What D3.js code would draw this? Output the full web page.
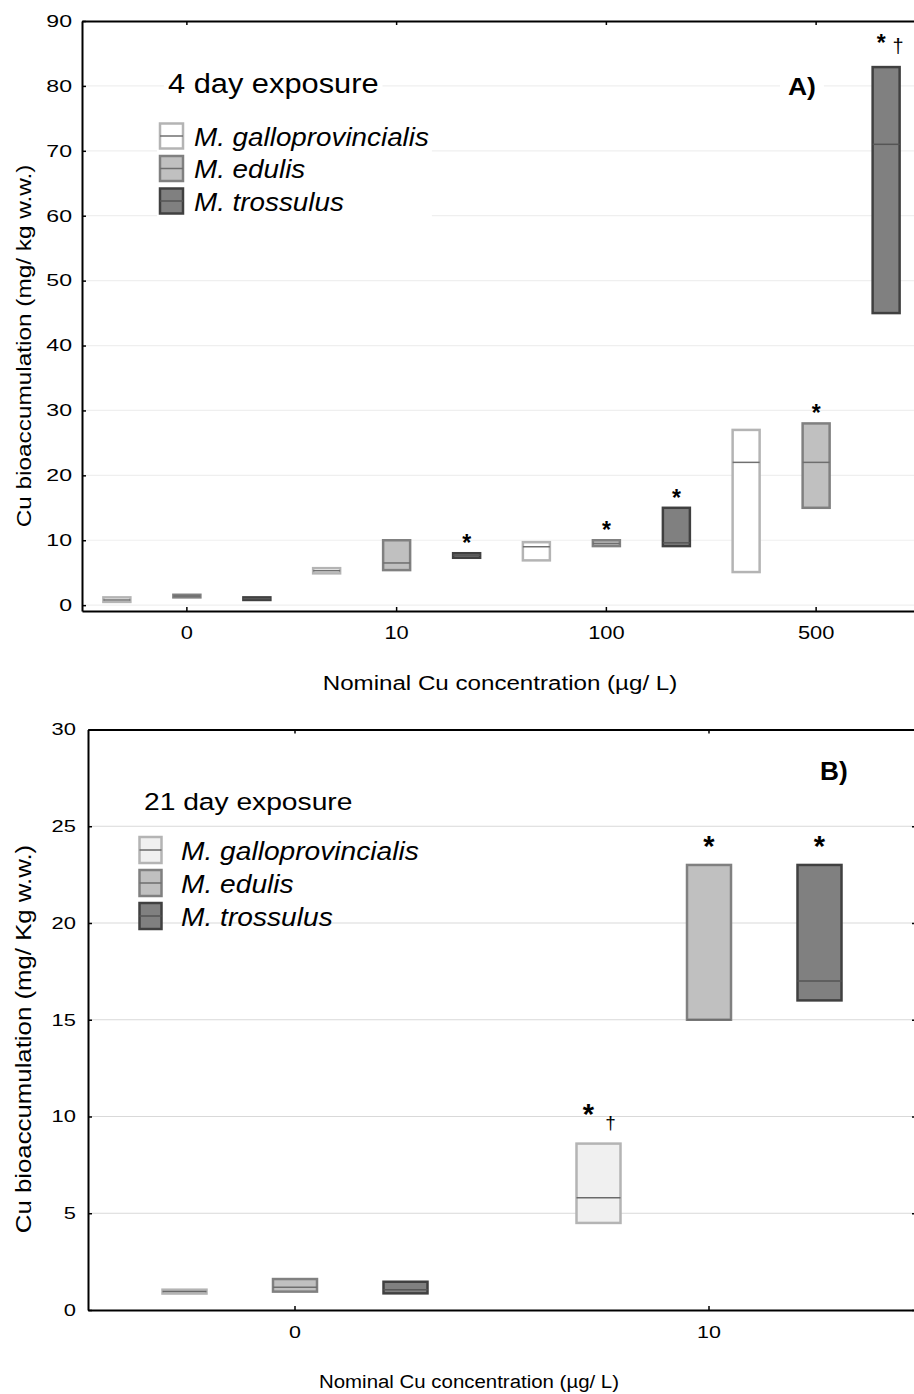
<!DOCTYPE html>
<html>
<head>
<meta charset="utf-8">
<script src="https://cdnjs.cloudflare.com/ajax/libs/d3/7.8.5/d3.min.js"></script>
<style>
body { margin: 0; background: #fff; }
svg { display: block; font-family: "Liberation Sans", Arial, sans-serif; }
</style>
</head>
<body>
<div id="chart"></div>
<script>
var species = ["M. galloprovincialis", "M. edulis", "M. trossulus"];

// panel A, 4 day exposure (rows = species, cols = concentration)
var concA = ["0", "10", "100", "500"];
var lowA  = [[0.5, 4.9, 6.9, 5.1], [1.2, 5.4, 9.1, 15.0], [0.8, 7.3, 9.1, 45.0]];
var medA  = [[0.8, 5.3, 9.0, 22.0], [1.4, 6.5, 9.5, 22.0], [1.0, 7.7, 9.6, 71.0]];
var highA = [[1.2, 5.7, 9.7, 27.0], [1.6, 10.0, 10.0, 28.0], [1.2, 8.0, 15.0, 82.9]];
var sigA  = [["", "", "", ""], ["", "", "*", "*"], ["", "*", "*", "*†"]];
var ticksA = [0, 10, 20, 30, 40, 50, 60, 70, 80, 90];

// panel B, 21 day exposure
var concB = ["0", "10"];
var lowB  = [[0.85, 4.5], [0.95, 15.0], [0.86, 16.0]];
var medB  = [[0.95, 5.8], [1.17, 15.0], [1.05, 17.0]];
var highB = [[1.05, 8.6], [1.6, 23.0], [1.46, 23.0]];
var sigB  = [["", "*†"], ["", "*"], ["", "*"]];
var ticksB = [0, 5, 10, 15, 20, 25, 30];

var W = 914, H = 1394;

var svg = d3.select("#chart").append("svg")
    .attr("width", W)
    .attr("height", H);

// text with a horizontal stretch (the original fonts run wide)
function label(g, x, y, txt, size, sx, opt) {
  opt = opt || {};
  var t = g.append("text")
      .attr("transform", "translate(" + x + "," + y + ")" + (opt.rotate ? " rotate(-90)" : "") + " scale(" + sx + ",1)")
      .attr("font-size", size)
      .attr("text-anchor", opt.anchor || "start")
      .attr("fill", "#000")
      .text(txt);
  if (opt.italic) t.attr("font-style", "italic");
  if (opt.bold) t.attr("font-weight", "bold");
  return t;
}

function whiteBehind(bgLayer, node, pad) {
  var r = node.getBoundingClientRect(), s = svg.node().getBoundingClientRect();
  bgLayer.append("rect")
      .attr("x", r.left - s.left - pad)
      .attr("y", r.top - s.top - pad)
      .attr("width", r.width + 2 * pad)
      .attr("height", r.height + 2 * pad)
      .attr("fill", "#fff");
}

function drawPanel(p) {
  var g = svg.append("g");

  var y = d3.scaleLinear().domain(p.yDom).range([p.bottom, p.top]);
  var x = d3.scaleBand().domain(p.conc).range([p.left, p.right]);
  var xs = d3.scalePoint().domain(d3.range(species.length)).range([-p.off, p.off]);

  // grid
  g.append("g").selectAll("line")
    .data(p.ticks.filter(function(d) { return d > p.yDom[0] + 0.5 && d < p.yDom[1]; }))
    .join("line")
      .attr("x1", p.left).attr("x2", p.right)
      .attr("y1", function(d) { return y(d); })
      .attr("y2", function(d) { return y(d); })
      .attr("stroke", p.gridColor)
      .attr("stroke-width", 1.2);

  var bg = g.append("g");

  // title + legend
  var lg = g.append("g");
  var title = label(lg, p.titleX, p.titleY, p.title, p.titleSize, p.titleSx);
  var panelTag = label(lg, p.tagX, p.tagY, p.tag, p.tagSize, p.tagSx, {bold: true});

  var items = lg.append("g");
  species.forEach(function(s, i) {
    var cy = p.legY + i * p.legStep;
    items.append("rect")
        .attr("x", p.legX).attr("y", cy - p.legH / 2)
        .attr("width", p.legW).attr("height", p.legH)
        .attr("fill", p.fills[i]).attr("stroke", p.strokes[i]).attr("stroke-width", 2.5);
    items.append("line")
        .attr("x1", p.legX).attr("x2", p.legX + p.legW)
        .attr("y1", cy).attr("y2", cy)
        .attr("stroke", p.meds[i]).attr("stroke-width", 1.5);
    label(items, p.legTextX, cy + p.legBase, s, p.legSize, p.legSx, {italic: true});
  });

  if (p.textBg) {
    whiteBehind(bg, title.node(), 4);
    whiteBehind(bg, panelTag.node(), 8);
    whiteBehind(bg, items.node(), 3);
  }

  // boxes
  var boxes = [];
  species.forEach(function(s, i) {
    p.conc.forEach(function(c, j) {
      boxes.push({i: i, c: c, lo: p.low[i][j], md: p.med[i][j], hi: p.high[i][j], sig: p.sig[i][j]});
    });
  });
  var cx = function(d) { return x(d.c) + x.bandwidth() / 2 + xs(d.i); };

  var bx = g.append("g").selectAll("g").data(boxes).join("g");
  bx.append("rect")
      .attr("x", function(d) { return cx(d) - p.boxW / 2; })
      .attr("y", function(d) { return y(d.hi); })
      .attr("width", p.boxW)
      .attr("height", function(d) { return y(d.lo) - y(d.hi); })
      .attr("fill", function(d) { return p.fills[d.i]; })
      .attr("stroke", function(d) { return p.strokes[d.i]; })
      .attr("stroke-width", 2.5);
  bx.append("line")
      .attr("x1", function(d) { return cx(d) - p.boxW / 2; })
      .attr("x2", function(d) { return cx(d) + p.boxW / 2; })
      .attr("y1", function(d) { return y(d.md); })
      .attr("y2", function(d) { return y(d.md); })
      .attr("stroke", function(d) { return p.meds[d.i]; })
      .attr("stroke-width", 1.5);

  // significance marks
  var marks = g.append("g");
  boxes.filter(function(d) { return d.sig; }).forEach(function(d) {
    var dag = d.sig.indexOf("†") >= 0;
    marks.append("text")
        .attr("x", cx(d) + (dag ? p.starDx : 0))
        .attr("y", y(d.hi) - (dag ? p.starOffD : p.starOff))
        .attr("text-anchor", "middle")
        .attr("font-size", p.starSize)
        .attr("font-weight", "bold")
        .text("*");
    if (dag) {
      marks.append("text")
          .attr("x", cx(d) + p.dagDx)
          .attr("y", y(d.hi) - p.dagOff)
          .attr("text-anchor", "middle")
          .attr("font-size", p.dagSize)
          .text("†");
    }
  });

  // axes
  var yAx = g.append("g")
      .attr("transform", "translate(" + p.left + ",0)")
      .call(d3.axisLeft(y).tickValues(p.ticks).tickSize(-4).tickSizeOuter(0).tickFormat(d3.format("d")));
  yAx.selectAll("text")
      .attr("x", -p.yLabGap / p.yLabSx)
      .attr("transform", "scale(" + p.yLabSx + ",1)")
      .attr("font-size", p.tickSize)
      .attr("font-family", null)
      .attr("fill", "#000");

  g.append("g")
      .attr("transform", "translate(" + p.right + ",0)")
      .call(d3.axisRight(y).tickValues(p.ticks).tickSize(-4).tickSizeOuter(0).tickFormat(""));

  var xAx = g.append("g")
      .attr("transform", "translate(0," + p.bottom + ")")
      .call(d3.axisBottom(x).tickSize(-4).tickSizeOuter(0));
  xAx.selectAll("text")
      .attr("y", p.xLabGap)
      .attr("dy", null)
      .attr("transform", "scale(" + p.xLabSx + ",1)")
      .attr("font-size", p.xTickSize)
      .attr("font-family", null)
      .attr("fill", "#000");

  g.append("g")
      .attr("transform", "translate(0," + p.top + ")")
      .call(d3.axisTop(x).tickSize(-4).tickSizeOuter(0).tickFormat(""));

  g.selectAll(".domain").attr("stroke", "#000").attr("stroke-width", 2);
  g.selectAll(".tick line").attr("stroke", "#000").attr("stroke-width", 1.5);

  // axis titles
  label(g, p.xTitleX, p.xTitleY, "Nominal Cu concentration (µg/ L)", p.xTitleSize, p.xTitleSx, {anchor: "middle"});
  label(g, p.yTitleX, p.yTitleY, p.yTitle, p.yTitleSize, p.yTitleSx, {anchor: "middle", rotate: true});
}

drawPanel({
  conc: concA, low: lowA, med: medA, high: highA, sig: sigA, ticks: ticksA,
  yDom: [-0.9, 90], left: 82, right: 921, top: 21, bottom: 611,
  off: 70, boxW: 27, gridColor: "#efefef", textBg: true,
  fills: ["#ffffff", "#c0c0c0", "#808080"],
  strokes: ["#b4b4b4", "#808080", "#404040"],
  meds: ["#707070", "#6e6e6e", "#555555"],
  title: "4 day exposure", titleX: 168, titleY: 93, titleSize: 28, titleSx: 1.1,
  tag: "A)", tagX: 788, tagY: 95, tagSize: 23, tagSx: 1.15,
  legX: 160, legY: 136, legStep: 32.5, legW: 23, legH: 25,
  legTextX: 194, legBase: 9.7, legSize: 26, legSx: 1.07,
  starDx: -5, starOff: 2, starOffD: 16, dagDx: 12, dagOff: 14, starSize: 23, dagSize: 20,
  tickSize: 16.5, yLabGap: 10, yLabSx: 1.4,
  xTickSize: 17.5, xLabGap: 28.5, xLabSx: 1.25,
  xTitleX: 500, xTitleY: 690, xTitleSize: 21, xTitleSx: 1.15,
  yTitle: "Cu bioaccumulation (mg/ kg w.w.)",
  yTitleX: 31, yTitleY: 346, yTitleSize: 21, yTitleSx: 1.16
});

drawPanel({
  conc: concB, low: lowB, med: medB, high: highB, sig: sigB, ticks: ticksB,
  yDom: [0, 30], left: 88, right: 916, top: 729.5, bottom: 1310,
  off: 110.5, boxW: 44, gridColor: "#d9d9d9", textBg: false,
  fills: ["#f0f0f0", "#c0c0c0", "#808080"],
  strokes: ["#b4b4b4", "#808080", "#404040"],
  meds: ["#6a6a6a", "#6e6e6e", "#555555"],
  title: "21 day exposure", titleX: 144, titleY: 810, titleSize: 23.5, titleSx: 1.2,
  tag: "B)", tagX: 820, tagY: 780, tagSize: 25, tagSx: 1.05,
  legX: 139.5, legY: 850, legStep: 33, legW: 22, legH: 26,
  legTextX: 181, legBase: 10, legSize: 25.6, legSx: 1.1,
  starDx: -10, starOff: 9, starOffD: 20, dagDx: 12, dagOff: 15, starSize: 29, dagSize: 19,
  tickSize: 16.5, yLabGap: 12, yLabSx: 1.33,
  xTickSize: 16.5, xLabGap: 28, xLabSx: 1.3,
  xTitleX: 469, xTitleY: 1388, xTitleSize: 19, xTitleSx: 1.075,
  yTitle: "Cu bioaccumulation (mg/ Kg w.w.)",
  yTitleX: 31, yTitleY: 1039, yTitleSize: 21.5, yTitleSx: 1.2
});
</script>
</body>
</html>
